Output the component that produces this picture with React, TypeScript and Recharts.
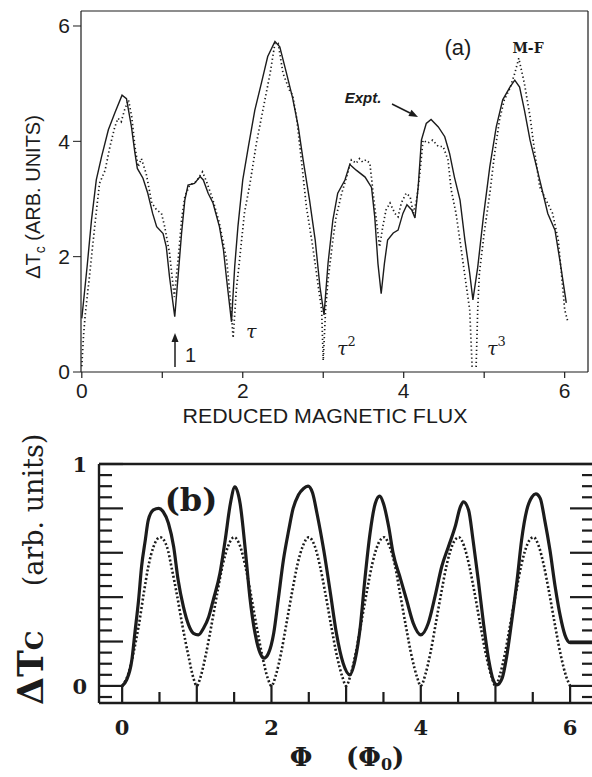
import { LineChart, Line, XAxis, YAxis } from 'recharts'

const sans = '"Liberation Sans", Arial, sans-serif'
const serif = '"DejaVu Serif", "Liberation Serif", serif'
const ink = '#1c1c1c'

// ---- panel (a): reduced magnetic flux vs delta Tc ----
const fluxTicks = [0, 1, 2, 3, 4, 5, 6]
const tcTicksA = [0, 2, 4, 6]

// experiment (solid)
const exptA: [number, number][] = [
  [0, 0.93], [0.066, 1.83], [0.12, 2.63], [0.18, 3.33], [0.245, 3.73], [0.33, 4.2], [0.41, 4.49],
  [0.5, 4.8], [0.555, 4.74], [0.617, 4.25], [0.66, 3.8], [0.69, 3.53], [0.76, 3.36], [0.82, 3.1],
  [0.88, 2.75], [0.93, 2.52], [1.01, 2.4], [1.05, 2.17], [1.09, 1.65], [1.155, 0.96], [1.2, 1.72],
  [1.24, 2.41], [1.28, 2.98], [1.32, 3.24], [1.4, 3.27], [1.47, 3.39], [1.51, 3.33], [1.57, 3.1],
  [1.63, 2.93], [1.71, 2.52], [1.76, 2.12], [1.8, 1.6], [1.86, 0.87], [1.9, 1.83], [1.94, 2.52],
  [2.0, 3.33], [2.07, 3.91], [2.15, 4.54], [2.23, 5.0], [2.31, 5.47], [2.4, 5.73], [2.46, 5.64],
  [2.54, 5.2], [2.62, 4.75], [2.69, 4.25], [2.75, 3.68], [2.83, 2.98], [2.9, 2.29], [2.96, 1.47],
  [3.01, 0.99], [3.06, 1.89], [3.12, 2.64], [3.18, 3.1], [3.27, 3.33], [3.33, 3.6], [3.41, 3.5],
  [3.52, 3.38], [3.6, 3.2], [3.64, 2.69], [3.68, 1.88], [3.72, 1.36], [3.76, 1.88], [3.8, 2.29],
  [3.87, 2.41], [3.93, 2.46], [3.99, 2.75], [4.04, 2.9], [4.1, 2.81], [4.14, 2.67], [4.18, 3.21],
  [4.22, 4.02], [4.28, 4.31], [4.34, 4.38], [4.43, 4.25], [4.51, 4.08], [4.57, 3.79], [4.63, 3.38],
  [4.7, 2.98], [4.76, 2.29], [4.82, 1.71], [4.86, 1.25], [4.92, 1.82], [4.99, 2.69], [5.07, 3.56],
  [5.15, 4.25], [5.23, 4.72], [5.32, 4.94], [5.38, 5.06], [5.44, 4.94], [5.5, 4.54], [5.57, 4.02],
  [5.65, 3.56], [5.73, 3.1], [5.79, 2.75], [5.88, 2.46], [5.94, 1.94], [6.02, 1.2],
]

// M-F theory (dotted)
const theoryA: [number, number][] = [
  [0, 0.1], [0.02, 0.6], [0.04, 0.96], [0.1, 1.72], [0.16, 2.52], [0.22, 3.27], [0.29, 3.5],
  [0.35, 3.91], [0.41, 4.25], [0.45, 4.4], [0.49, 4.34], [0.53, 4.54], [0.58, 4.72], [0.62, 4.43],
  [0.66, 3.91], [0.7, 3.56], [0.74, 3.7], [0.8, 3.44], [0.87, 2.93], [0.93, 2.81], [0.99, 2.75],
  [1.03, 2.52], [1.09, 2.06], [1.15, 1.3], [1.2, 2.0], [1.24, 2.64], [1.28, 3.04], [1.34, 3.24],
  [1.42, 3.3], [1.5, 3.47], [1.55, 3.3], [1.63, 2.98], [1.71, 2.58], [1.8, 1.94], [1.84, 1.36],
  [1.88, 0.59], [1.92, 1.42], [1.96, 1.94], [2.02, 2.75], [2.09, 3.27], [2.17, 3.97], [2.25, 4.54],
  [2.34, 5.18], [2.4, 5.7], [2.44, 5.7], [2.5, 5.18], [2.58, 4.89], [2.62, 4.8], [2.67, 4.4],
  [2.71, 3.9], [2.75, 3.4], [2.79, 2.87], [2.87, 2.17], [2.94, 1.47], [2.98, 1.08], [3.0, 0.2],
  [3.03, 1.1], [3.06, 1.6], [3.12, 2.29], [3.16, 2.69], [3.23, 3.1], [3.29, 3.38], [3.35, 3.68],
  [3.41, 3.62], [3.45, 3.7], [3.49, 3.64], [3.53, 3.68], [3.58, 3.62], [3.62, 3.1], [3.67, 2.52],
  [3.7, 2.17], [3.74, 2.52], [3.78, 2.81], [3.83, 2.93], [3.89, 2.75], [3.93, 2.69], [3.97, 2.93],
  [4.03, 3.1], [4.08, 3.04], [4.12, 2.75], [4.16, 2.98], [4.2, 3.44], [4.24, 4.02], [4.3, 3.97],
  [4.36, 4.02], [4.43, 3.91], [4.49, 3.91], [4.55, 3.68], [4.59, 3.16], [4.65, 2.75], [4.71, 2.17],
  [4.78, 1.47], [4.82, 1.08], [4.85, 0.1], [4.9, 0.1], [4.92, 1.1], [4.94, 1.71], [5.0, 2.41],
  [5.07, 3.1], [5.13, 3.79], [5.19, 4.37], [5.25, 4.72], [5.32, 4.92], [5.38, 5.18], [5.43, 5.44],
  [5.5, 5.0], [5.57, 4.43], [5.63, 3.79], [5.69, 3.21], [5.77, 2.98], [5.85, 2.75], [5.92, 2.29],
  [5.96, 1.71], [6.0, 1.08], [6.04, 0.87],
]

// ---- panel (b): phi vs delta Tc ----
const phiTicks = [0, 0.5, 1, 1.5, 2, 2.5, 3, 3.5, 4, 4.5, 5, 5.5, 6]
const tcTicksB = [
  -0.05, 0, 0.05, 0.1, 0.15, 0.2, 0.25, 0.3, 0.35, 0.4, 0.45, 0.5,
  0.55, 0.6, 0.65, 0.7, 0.75, 0.8, 0.85, 0.9, 0.95, 1,
]

const solidB: [number, number][] = [
  [0, 0], [0.06, 0.027], [0.13, 0.117], [0.17, 0.237], [0.22, 0.387], [0.26, 0.537], [0.31, 0.657],
  [0.35, 0.747], [0.42, 0.793], [0.49, 0.8], [0.55, 0.785], [0.62, 0.733], [0.69, 0.627], [0.75, 0.477],
  [0.82, 0.357], [0.89, 0.275], [0.955, 0.237], [1.02, 0.23], [1.09, 0.26], [1.16, 0.312], [1.22, 0.387],
  [1.31, 0.507], [1.38, 0.657], [1.45, 0.822], [1.51, 0.897], [1.58, 0.822], [1.65, 0.612], [1.71, 0.402],
  [1.78, 0.237], [1.85, 0.147], [1.9, 0.125], [1.96, 0.147], [2.03, 0.237], [2.09, 0.387], [2.16, 0.567],
  [2.23, 0.7], [2.29, 0.8], [2.36, 0.86], [2.43, 0.89], [2.49, 0.9], [2.55, 0.87], [2.61, 0.777],
  [2.7, 0.612], [2.79, 0.417], [2.87, 0.237], [2.96, 0.102], [3.05, 0.05], [3.12, 0.117], [3.19, 0.267],
  [3.25, 0.477], [3.32, 0.687], [3.39, 0.822], [3.45, 0.855], [3.5, 0.822], [3.57, 0.717], [3.63, 0.597],
  [3.72, 0.492], [3.81, 0.387], [3.9, 0.282], [4.0, 0.23], [4.1, 0.282], [4.19, 0.402], [4.28, 0.537],
  [4.37, 0.627], [4.46, 0.717], [4.53, 0.807], [4.57, 0.83], [4.64, 0.793], [4.7, 0.657], [4.77, 0.477],
  [4.84, 0.282], [4.91, 0.117], [4.97, 0.027], [5.02, 0.005], [5.09, 0.035], [5.15, 0.132], [5.22, 0.297],
  [5.29, 0.477], [5.35, 0.657], [5.42, 0.793], [5.49, 0.852], [5.54, 0.865], [5.6, 0.845], [5.66, 0.747],
  [5.73, 0.612], [5.8, 0.447], [5.87, 0.312], [5.93, 0.23], [6.0, 0.195], [6.3, 0.195],
]

const dottedB: [number, number][] = [
  [0, 0], [0.085, 0.057], [0.15, 0.147], [0.22, 0.267], [0.29, 0.418], [0.35, 0.537], [0.42, 0.627],
  [0.51, 0.67], [0.6, 0.627], [0.66, 0.537], [0.73, 0.418], [0.81, 0.267], [0.89, 0.132], [0.955, 0.035],
  [1.0, 0], [1.05, 0.04], [1.12, 0.14], [1.2, 0.28], [1.28, 0.43], [1.35, 0.55], [1.42, 0.63], [1.5, 0.67],
  [1.58, 0.63], [1.65, 0.54], [1.72, 0.42], [1.8, 0.27], [1.88, 0.13], [1.95, 0.035], [2.0, 0],
  [2.06, 0.05], [2.13, 0.15], [2.2, 0.28], [2.28, 0.43], [2.35, 0.55], [2.42, 0.63], [2.5, 0.67],
  [2.58, 0.63], [2.65, 0.54], [2.72, 0.42], [2.8, 0.27], [2.88, 0.13], [2.95, 0.04], [3.0, 0],
  [3.06, 0.05], [3.13, 0.15], [3.2, 0.28], [3.28, 0.43], [3.35, 0.55], [3.43, 0.64], [3.51, 0.67],
  [3.58, 0.63], [3.65, 0.55], [3.72, 0.42], [3.8, 0.27], [3.88, 0.13], [3.95, 0.04], [4.0, 0],
  [4.06, 0.05], [4.13, 0.15], [4.2, 0.28], [4.28, 0.43], [4.35, 0.55], [4.43, 0.64], [4.51, 0.67],
  [4.58, 0.63], [4.65, 0.54], [4.72, 0.42], [4.8, 0.27], [4.88, 0.13], [4.95, 0.04], [5.0, 0],
  [5.06, 0.05], [5.13, 0.15], [5.2, 0.28], [5.28, 0.43], [5.35, 0.55], [5.43, 0.64], [5.51, 0.67],
  [5.58, 0.63], [5.65, 0.54], [5.72, 0.42], [5.8, 0.27], [5.88, 0.13], [5.95, 0.04], [6.0, 0],
]

const toPts = (arr: [number, number][]) => arr.map(([x, y]) => ({ x, y }))

// empty formatter so recharts never thins out the dense tick combs
const noLabel = () => ''

// ticks for panel (a): marks at every integer, labels at even ones
function FluxTick(props: any) {
  const { x, y, payload } = props
  const v = payload.value
  return (
    <g>
      <line x1={x} x2={x} y1={y} y2={y + 6} stroke={ink} strokeWidth={1.2} />
      {v % 2 === 0 && (
        <text x={x} y={y + 26} textAnchor="middle" fontFamily={sans} fontSize={21} fill={ink}>
          {v}
        </text>
      )}
    </g>
  )
}

const isInt = (v: number) => Math.abs(v - Math.round(v)) < 1e-6
const isFifth = (v: number) => Math.abs(v * 5 - Math.round(v * 5)) < 1e-6

// panel (b) ticks all point inward
function PhiBottomTick(props: any) {
  const { x, y, payload } = props
  const v = payload.value
  const len = isInt(v) ? 18 : 11
  return (
    <g>
      <line x1={x} x2={x} y1={y} y2={y - len} stroke={ink} strokeWidth={2.2} />
      {isInt(v) && v % 2 === 0 && (
        <text x={x} y={y + 32} textAnchor="middle" fontFamily={serif} fontWeight="bold" fontSize={21} fill={ink}>
          {v}
        </text>
      )}
    </g>
  )
}

function PhiTopTick(props: any) {
  const { x, y, payload } = props
  const len = isInt(payload.value) ? 24 : 13
  return <line x1={x} x2={x} y1={y} y2={y + len} stroke={ink} strokeWidth={2.2} />
}

function TcLeftTick(props: any) {
  const { x, y, payload } = props
  const v = payload.value
  const len = isFifth(v) ? 24 : 13
  return (
    <g>
      <line x1={x} x2={x + len} y1={y} y2={y} stroke={ink} strokeWidth={2.2} />
      {(Math.abs(v) < 1e-6 || Math.abs(v - 1) < 1e-6) && (
        <text x={x - 12} y={y + 8} textAnchor="end" fontFamily={serif} fontWeight="bold" fontSize={21} fill={ink}>
          {Math.round(v)}
        </text>
      )}
    </g>
  )
}

function TcRightTick(props: any) {
  const { x, y, payload } = props
  const len = isFifth(payload.value) ? 24 : 12
  return <line x1={x} x2={x - len} y1={y} y2={y} stroke={ink} strokeWidth={2.2} />
}

function PanelA() {
  const frame = { stroke: ink, strokeWidth: 1.2 }
  const xDomain: [number, number] = [-0.01, 6.29]
  const yDomain: [number, number] = [0, 6.26]
  return (
    <LineChart width={592} height={440} margin={{ top: 10, right: 3, bottom: 0, left: 0 }}>
      <XAxis
        dataKey="x"
        type="number"
        domain={xDomain}
        allowDataOverflow
        ticks={fluxTicks}
        interval={0}
        minTickGap={0}
        tickFormatter={noLabel}
        height={68}
        tickSize={0}
        tickMargin={0}
        tickLine={false}
        axisLine={frame}
        tick={<FluxTick />}
      />
      <XAxis xAxisId="top" orientation="top" type="number" domain={xDomain} allowDataOverflow ticks={fluxTicks} height={1} tick={false} tickLine={false} axisLine={frame} />
      <YAxis
        type="number"
        domain={yDomain}
        allowDataOverflow
        ticks={tcTicksA}
        interval={0}
        width={81}
        tickSize={8}
        tickMargin={3}
        tickLine={{ stroke: ink, strokeWidth: 1 }}
        axisLine={frame}
        tick={{ fontFamily: sans, fontSize: 21, fill: ink }}
      />
      <YAxis yAxisId="right" orientation="right" type="number" domain={yDomain} allowDataOverflow ticks={tcTicksA} width={1} tick={false} tickLine={false} axisLine={frame} />
      <Line data={toPts(exptA)} dataKey="y" type="linear" stroke={ink} strokeWidth={1.4} dot={false} activeDot={false} isAnimationActive={false} />
      <Line data={toPts(theoryA)} dataKey="y" type="linear" stroke={ink} strokeWidth={1.7} strokeDasharray="1.3 2.7" dot={false} activeDot={false} isAnimationActive={false} />
    </LineChart>
  )
}

function PanelB() {
  const frame = { stroke: ink, strokeWidth: 2.4 }
  const xDomain: [number, number] = [-0.31, 6.32]
  const yDomain: [number, number] = [-0.077, 1]
  const comb = { interval: 0 as const, minTickGap: 0, tickFormatter: noLabel, tickSize: 0, tickMargin: 0, tickLine: false, axisLine: frame, allowDataOverflow: true }
  return (
    <LineChart width={595} height={337} margin={{ top: 23, right: 0, bottom: 0, left: 0 }}>
      <XAxis dataKey="x" type="number" domain={xDomain} ticks={phiTicks} height={74} tick={<PhiBottomTick />} {...comb} />
      <XAxis xAxisId="top" orientation="top" type="number" domain={xDomain} ticks={phiTicks} height={1} tick={<PhiTopTick />} {...comb} />
      <YAxis type="number" domain={yDomain} ticks={tcTicksB} width={99} tick={<TcLeftTick />} {...comb} />
      <YAxis yAxisId="right" orientation="right" type="number" domain={yDomain} ticks={tcTicksB} width={1} tick={<TcRightTick />} {...comb} />
      <Line data={toPts(dottedB)} dataKey="y" type="monotone" stroke={ink} strokeWidth={2.6} strokeDasharray="2 2.2" dot={false} activeDot={false} isAnimationActive={false} />
      <Line data={toPts(solidB)} dataKey="y" type="monotone" stroke={ink} strokeWidth={3.2} dot={false} activeDot={false} isAnimationActive={false} />
    </LineChart>
  )
}

function Arrow({ x1, y1, x2, y2 }: { x1: number; y1: number; x2: number; y2: number }) {
  const a = Math.atan2(y2 - y1, x2 - x1)
  const h = 9
  const w = 3.5
  const bx = x2 - h * Math.cos(a)
  const by = y2 - h * Math.sin(a)
  const px = -Math.sin(a) * w
  const py = Math.cos(a) * w
  return (
    <g>
      <line x1={x1} y1={y1} x2={bx} y2={by} stroke={ink} strokeWidth={1.5} />
      <polygon points={`${x2},${y2} ${bx + px},${by + py} ${bx - px},${by - py}`} fill={ink} />
    </g>
  )
}

function Labels() {
  return (
    <svg width={592} height={777} style={{ position: 'absolute', left: 0, top: 0, pointerEvents: 'none' }}>
      {/* panel (a) */}
      <text transform="translate(40,197) rotate(-90)" textAnchor="middle" fontFamily={sans} fontSize={20} fill={ink}>
        ΔT<tspan fontSize={14} dy={5}>c</tspan>
        <tspan dy={-5}> (ARB. UNITS)</tspan>
      </text>
      <text x={325} y={423} textAnchor="middle" fontFamily={sans} fontSize={20} fill={ink} textLength={285} lengthAdjust="spacingAndGlyphs">
        REDUCED MAGNETIC FLUX
      </text>
      <text x={458} y={55} textAnchor="middle" fontFamily={sans} fontSize={22} fill={ink}>(a)</text>
      <text x={528} y={53} textAnchor="middle" fontFamily={serif} fontWeight="bold" fontSize={14} fill={ink}>M-F</text>
      <text x={363} y={103} textAnchor="middle" fontFamily={sans} fontWeight="bold" fontStyle="italic" fontSize={15} fill={ink}>Expt.</text>
      <Arrow x1={392} y1={104} x2={418} y2={117} />
      <Arrow x1={175} y1={367} x2={175} y2={333} />
      <text x={185} y={362} fontFamily={sans} fontSize={20} fill={ink}>1</text>
      <text x={246} y={338} fontFamily={serif} fontStyle="italic" fontSize={19} fill={ink}>τ</text>
      <text x={337} y={355} fontFamily={serif} fontStyle="italic" fontSize={19} fill={ink}>
        τ<tspan fontStyle="normal" fontSize={13} dy={-9}>2</tspan>
      </text>
      <text x={487} y={355} fontFamily={serif} fontStyle="italic" fontSize={19} fill={ink}>
        τ<tspan fontStyle="normal" fontSize={13} dy={-9}>3</tspan>
      </text>

      {/* panel (b) */}
      <text x={191} y={511} textAnchor="middle" fontFamily={serif} fontWeight="bold" fontSize={32} fill={ink}>(b)</text>
      <text transform="translate(43,705) rotate(-90)" fontFamily={serif} fill={ink}>
        <tspan fontWeight="bold" fontSize={36}>ΔT</tspan>
        <tspan fontWeight="bold" fontSize={25}>C</tspan>
        <tspan dx={44} fontSize={27}>(arb. units)</tspan>
      </text>
      <text x={301} y={766} textAnchor="middle" fontFamily={serif} fontWeight="bold" fontSize={26} fill={ink}>Φ</text>
      <text x={346} y={766} fontFamily={serif} fontWeight="bold" fontSize={26} fill={ink}>
        (Φ<tspan fontSize={16} dy={4}>0</tspan>
        <tspan dy={-4}>)</tspan>
      </text>
    </svg>
  )
}

export default function App() {
  return (
    <div style={{ position: 'absolute', left: 0, top: 0, width: 592, height: 777, overflow: 'hidden', background: '#fff' }}>
      <div style={{ position: 'absolute', left: 0, top: 0 }}>
        <PanelA />
      </div>
      <div style={{ position: 'absolute', left: 0, top: 440 }}>
        <PanelB />
      </div>
      <Labels />
    </div>
  )
}
